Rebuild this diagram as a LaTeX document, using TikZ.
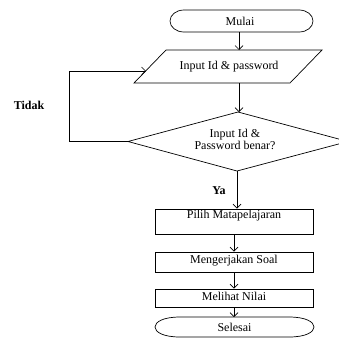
\documentclass[tikz,border=0pt]{standalone}
\usepackage{fontspec}
\setmainfont{Liberation Serif}
\usetikzlibrary{arrows.meta}
\begin{document}
\begin{tikzpicture}[x=1pt,y=-1pt,line width=0.7pt,
  arr/.style={-{Straight Barb[length=4pt,width=8pt]}},
  txt/.style={font=\fontsize{12}{10}\selectfont,inner sep=0pt,align=center},
  lbl/.style={font=\fontsize{12}{12}\selectfont\bfseries,inner sep=0pt},
  procbox/.style={draw,minimum width=158pt,inner sep=0pt}]
\useasboundingbox (0,0) rectangle (339,338);
\clip (0,0) rectangle (339,338);
% Mulai terminal
\draw (184,10) -- (299,10) .. controls (307,10) and (313,15) .. (313,21)
  .. controls (313,27) and (307,32) .. (299,32) -- (184,32)
  .. controls (176,32) and (170,27) .. (170,21)
  .. controls (170,15) and (176,10) .. (184,10) -- cycle;
\node[txt] (mulai) at (240,21) {Mulai};
\coordinate (mulaiB) at (239,32);
% Input parallelogram
\draw (166,50) -- (322,50) -- (290,83) -- (134,83) -- cycle;
\node[txt] (input) at (229,67) {Input Id \& password};
\coordinate (inT) at (239,50);
\coordinate (inB) at (239,83);
\coordinate (inL) at (146,71);
% Decision diamond
\coordinate (dT) at (238,112);
\coordinate (dR) at (348,141.5);
\coordinate (dB) at (237,171);
\coordinate (dL) at (128,141.5);
\draw (dT) -- (dR) -- (dB) -- (dL) -- cycle;
\node[txt] (cek) at (235,139.5) {Input Id \&\\Password benar?};
% Process boxes
\node[procbox,minimum height=25pt] (b1) at (234,221.5) {};
\node[txt] (t1) at (234,216) {Pilih Matapelajaran};
\node[procbox,minimum height=20pt] (b2) at (234,262) {};
\node[txt] (t2) at (234,260.5) {Mengerjakan Soal};
\node[procbox,minimum height=18pt] (b3) at (234,298) {};
\node[txt] (t3) at (234,296.5) {Melihat Nilai};
% Selesai terminal
\draw (180,317) -- (289,317) .. controls (306,317) and (314,322) .. (314,327)
  .. controls (314,332) and (306,337) .. (289,337) -- (180,337)
  .. controls (163,337) and (155,332) .. (155,327)
  .. controls (155,322) and (163,317) .. (180,317) -- cycle;
\node[txt] (selesai) at (234.5,327) {Selesai};
\coordinate (selT) at (234,317);
% Labels
\node[lbl] (ya) at (219,191) {Ya};
\node[lbl] (tidak) at (29,105) {Tidak};
% Loop corner
\coordinate (loopT) at (69,71);
% Connectors
\draw[arr] (mulaiB) -- (inT);
\draw[arr] (inB) -- (inB |- dT);
\draw[arr] (dB) -- (dB |- b1.north);
\draw[arr] (b1.south) -- (b2.north);
\draw[arr] (b2.south) -- (b3.north);
\draw[arr] (b3.south) -- (selT);
\draw[arr] (dL) -| (loopT) -- (inL);
\end{tikzpicture}
\end{document}
